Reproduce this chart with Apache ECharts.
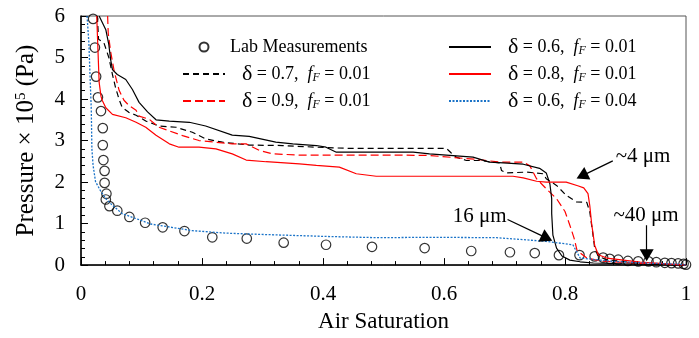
<!DOCTYPE html>
<html><head><meta charset="utf-8">
<script src="https://cdn.jsdelivr.net/npm/echarts@6/dist/echarts.min.js"></script>
<style>html,body{margin:0;padding:0;background:#fff}#c{width:699px;height:338px}</style>
</head><body><div id="c"></div>
<script>
const xTicks = [0, 0.2, 0.4, 0.6, 0.8, 1];
const yTicks = [0, 1, 2, 3, 4, 5, 6];
const names = ['Lab Measurements','δ = 0.7, fF = 0.01','δ = 0.9, fF = 0.01','δ = 0.6, fF = 0.01','δ = 0.8, fF = 0.01','δ = 0.6, fF = 0.04'];

const lab = [[0.020,5.93],[0.023,5.24],[0.025,4.54],[0.028,4.04],[0.033,3.71],[0.036,3.30],[0.036,2.89],[0.037,2.53],[0.039,2.27],[0.039,1.98],[0.042,1.72],[0.041,1.58],[0.047,1.42],[0.060,1.31],[0.080,1.16],[0.106,1.02],[0.135,0.91],[0.171,0.82],[0.217,0.67],[0.274,0.64],[0.335,0.54],[0.405,0.49],[0.481,0.44],[0.568,0.41],[0.645,0.34],[0.709,0.31],[0.750,0.29],[0.790,0.24],[0.824,0.24],[0.849,0.21],[0.863,0.18],[0.874,0.15],[0.888,0.13],[0.904,0.10],[0.921,0.09],[0.938,0.09],[0.951,0.07],[0.965,0.055],[0.976,0.048],[0.987,0.04],[0.996,0.03],[1.0,0.01]];

const d06f01 = [[0.030,6.0],[0.041,5.67],[0.046,5.31],[0.049,4.95],[0.052,4.71],[0.060,4.59],[0.074,4.47],[0.085,4.23],[0.096,3.92],[0.110,3.69],[0.124,3.50],[0.146,3.47],[0.179,3.44],[0.206,3.35],[0.250,3.13],[0.278,3.10],[0.322,2.96],[0.350,2.92],[0.389,2.88],[0.405,2.84],[0.422,2.72],[0.549,2.72],[0.576,2.68],[0.604,2.65],[0.648,2.60],[0.675,2.48],[0.698,2.46],[0.731,2.43],[0.758,2.33],[0.769,2.22],[0.775,1.96],[0.778,1.60],[0.778,1.24],[0.780,0.72],[0.786,0.41],[0.795,0.22],[0.808,0.12],[0.825,0.08],[0.847,0.05],[0.924,0.02],[1.0,0.0]];

const d07f01 = [[0.027,6.0],[0.029,5.44],[0.038,5.35],[0.046,5.0],[0.052,4.59],[0.057,4.28],[0.063,3.99],[0.068,3.80],[0.079,3.68],[0.091,3.61],[0.107,3.47],[0.129,3.35],[0.157,3.32],[0.184,3.20],[0.206,3.04],[0.234,2.96],[0.278,2.89],[0.333,2.88],[0.389,2.84],[0.444,2.81],[0.604,2.81],[0.612,2.70],[0.620,2.60],[0.637,2.52],[0.659,2.52],[0.692,2.46],[0.695,2.28],[0.703,2.22],[0.736,2.24],[0.764,2.20],[0.769,2.08],[0.786,1.92],[0.802,1.68],[0.819,1.52],[0.836,1.51],[0.841,1.28],[0.844,0.96],[0.847,0.65],[0.849,0.41],[0.855,0.21],[0.869,0.13],[0.924,0.04],[1.0,0.0]];

const d08f01 = [[0.026,6.0],[0.028,5.19],[0.030,4.40],[0.033,4.07],[0.035,3.97],[0.041,3.79],[0.052,3.63],[0.074,3.55],[0.091,3.44],[0.107,3.32],[0.124,3.13],[0.146,2.92],[0.162,2.84],[0.195,2.84],[0.223,2.80],[0.250,2.68],[0.273,2.53],[0.306,2.49],[0.361,2.44],[0.389,2.40],[0.427,2.36],[0.455,2.20],[0.488,2.14],[0.714,2.14],[0.731,2.10],[0.753,2.02],[0.769,2.00],[0.802,2.00],[0.821,1.91],[0.831,1.86],[0.838,1.72],[0.841,1.43],[0.844,1.00],[0.847,0.69],[0.849,0.48],[0.855,0.25],[0.869,0.17],[0.924,0.07],[1.0,0.0]];

const d09f01 = [[0.044,6.0],[0.045,5.59],[0.049,5.14],[0.055,4.66],[0.063,4.21],[0.071,3.97],[0.079,3.85],[0.091,3.73],[0.096,3.59],[0.113,3.51],[0.129,3.32],[0.168,3.12],[0.195,3.00],[0.250,2.92],[0.273,2.92],[0.295,2.76],[0.317,2.68],[0.361,2.65],[0.526,2.65],[0.576,2.64],[0.659,2.54],[0.692,2.48],[0.731,2.48],[0.742,2.39],[0.753,2.08],[0.769,1.84],[0.786,1.60],[0.800,1.29],[0.808,0.96],[0.815,0.65],[0.820,0.35],[0.836,0.17],[0.858,0.10],[0.924,0.04],[1.0,0.0]];

const d06f04 = [[0.010,6.0],[0.013,5.36],[0.015,4.54],[0.017,3.75],[0.018,2.80],[0.020,2.40],[0.024,2.01],[0.033,1.77],[0.041,1.60],[0.052,1.44],[0.068,1.24],[0.091,1.12],[0.115,0.99],[0.184,0.83],[0.240,0.77],[0.295,0.74],[0.406,0.69],[0.493,0.66],[0.576,0.67],[0.687,0.66],[0.725,0.62],[0.769,0.57],[0.813,0.49],[0.819,0.33],[0.825,0.17],[0.852,0.13],[0.879,0.09],[0.935,0.05],[0.990,0.02],[1.0,0.0]];

const annotTexts = ['~4 μm', '16 μm', '~40 μm'];
const annotTextPos = [[0.929, 2.61], [0.659, 1.17], [0.934, 1.20]];
const annotArrows = [[[0.879, 2.51], [0.828, 2.15]], [[0.705, 1.10], [0.770, 0.65]], [[0.935, 0.96], [0.935, 0.24]]];

const FONT = 'Liberation Serif';
const chart = echarts.init(document.getElementById('c'), null, {renderer: 'canvas'});

function fmt(name) {
  if (name === names[0]) return name;
  const m = name.match(/δ = ([\d.]+), fF = ([\d.]+)/);
  return '{d|δ}{t| = ' + m[1] + ',  }{i|f}{s|F}{t| = ' + m[2] + '}';
}
const richStyle = {
  d: {fontFamily: FONT, fontSize: 22, padding: [0, 0, 0, 12], color: '#000'},
  t: {fontFamily: FONT, fontSize: 18, color: '#000'},
  i: {fontFamily: FONT, fontSize: 18, fontStyle: 'italic', color: '#000'},
  s: {fontFamily: FONT, fontSize: 12, fontStyle: 'italic', color: '#000', padding: [8, 0, 0, 0]}
};

function lineSeries(name, data, color, type, width) {
  return {
    name: name, type: 'line', data: data, symbol: 'none', showSymbol: false, z: 3,
    lineStyle: {color: color, type: type, width: width},
    itemStyle: {color: color},
    animation: false
  };
}

const legendBase = {
  orient: 'vertical', itemWidth: 42, itemHeight: 9, itemGap: 5,
  formatter: fmt,
  textStyle: {fontFamily: FONT, fontSize: 18, color: '#000', lineHeight: 22, rich: richStyle},
  selectedMode: false
};
const hideSym = {opacity: 0};

const option = {
  backgroundColor: '#fff',
  animation: false,
  grid: {left: 81, right: 13, top: 16, bottom: 71, show: true, borderColor: '#555', borderWidth: 1},
  legend: [
    Object.assign({}, legendBase, {left: 177, top: 31, data: [
      {name: names[0], icon: 'circle'},
      {name: names[1], itemStyle: hideSym},
      {name: names[2], itemStyle: hideSym}]}),
    Object.assign({}, legendBase, {left: 443, top: 31, data: [
      {name: names[3], itemStyle: hideSym},
      {name: names[4], itemStyle: hideSym},
      {name: names[5], itemStyle: hideSym}]})
  ],
  xAxis: {
    type: 'value', min: xTicks[0], max: xTicks[xTicks.length - 1], interval: 0.2,
    name: 'Air Saturation', nameLocation: 'middle', nameGap: 36,
    nameTextStyle: {fontFamily: FONT, fontSize: 23, color: '#000'},
    axisLine: {lineStyle: {color: '#000', width: 1.5}},
    axisTick: {inside: true, length: 7, lineStyle: {color: '#000'}},
    minorTick: {show: true, splitNumber: 5, length: 4, lineStyle: {color: '#000'}},
    splitLine: {show: false},
    axisLabel: {fontFamily: FONT, fontSize: 21, color: '#000', margin: 19}
  },
  yAxis: {
    type: 'value', min: yTicks[0], max: yTicks[yTicks.length - 1], interval: 1,
    name: 'Pressure × 10{sup|5} (Pa)', nameLocation: 'middle', nameGap: 42, nameRotate: 90,
    nameTextStyle: {fontFamily: FONT, fontSize: 25, color: '#000',
      rich: {sup: {fontFamily: FONT, fontSize: 15, color: '#000', padding: [0, 0, 10, 0]}}},
    axisLine: {lineStyle: {color: '#000', width: 1.5}},
    axisTick: {inside: true, length: 7, lineStyle: {color: '#000'}},
    minorTick: {show: true, splitNumber: 5, length: 4, lineStyle: {color: '#000'}},
    splitLine: {show: false},
    axisLabel: {fontFamily: FONT, fontSize: 21, color: '#000', margin: 16}
  },
  series: [
    {
      name: names[0], type: 'scatter', data: lab, symbol: 'circle', symbolSize: 9.5, z: 2,
      itemStyle: {color: 'rgba(255,255,255,0)', borderColor: '#000', borderWidth: 1.2},
      markLine: {
        silent: true, symbol: ['none', 'triangle'], symbolSize: [14, 12],
        lineStyle: {color: '#000', type: 'solid', width: 1.2}, label: {show: false},
        data: annotArrows.map(a => [{coord: a[0]}, {coord: a[1]}])
      },
      markPoint: {
        silent: true, symbol: 'circle', symbolSize: 0,
        label: {show: true, position: 'inside', fontFamily: FONT, fontSize: 21, color: '#000'},
        data: annotTexts.map((t, i) => ({coord: annotTextPos[i], value: t, label: {formatter: t}}))
      }
    },
    lineSeries(names[1], d07f01, '#000', [6, 4], 1.2),
    lineSeries(names[2], d09f01, '#ff0000', [8, 4], 1.2),
    lineSeries(names[3], d06f01, '#000', 'solid', 1.2),
    lineSeries(names[4], d08f01, '#ff0000', 'solid', 1.2),
    lineSeries(names[5], d06f04, '#1a73c8', [2, 1.5], 1.3)
  ]
};
chart.setOption(option);
</script></body></html>
